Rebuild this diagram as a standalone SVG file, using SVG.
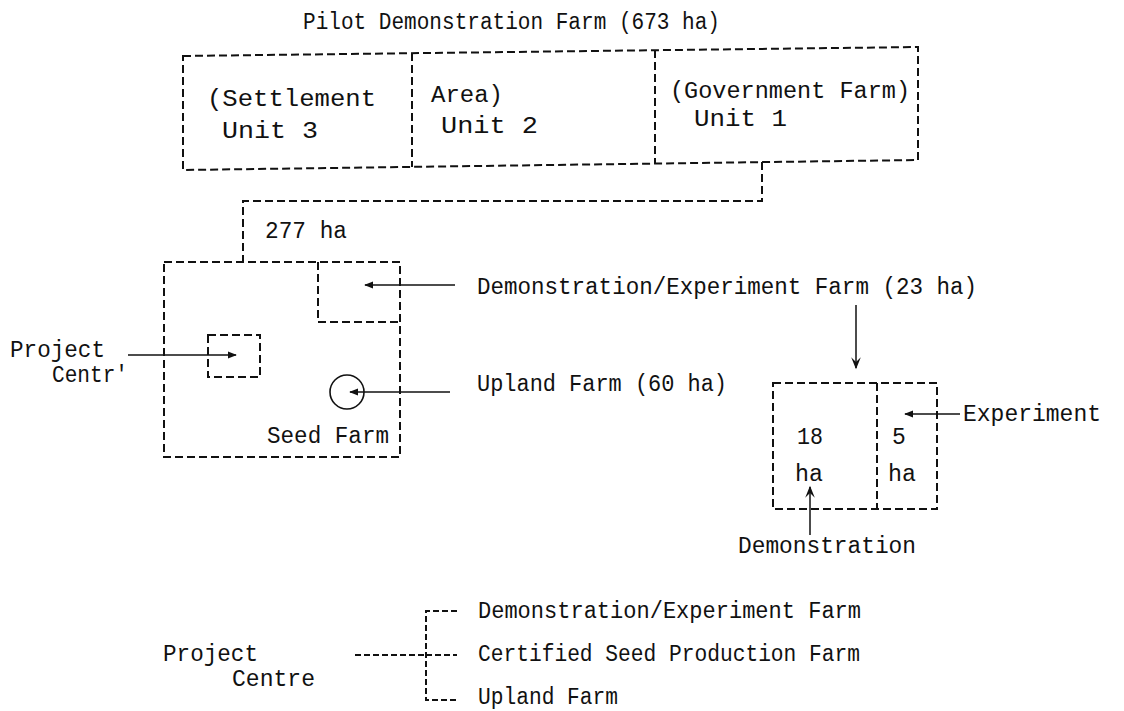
<svg xmlns="http://www.w3.org/2000/svg" width="1124" height="711" viewBox="0 0 1124 711">
<style>
text{font-family:"Liberation Mono","Courier New",monospace;font-size:23px;fill:#111}
.d{fill:none;stroke:#111;stroke-width:2;stroke-dasharray:8 4}
.s{fill:none;stroke:#111;stroke-width:1.5}
</style>
<defs>
<marker id="ah" viewBox="0 0 10 10" refX="9" refY="5" markerWidth="9" markerHeight="9" markerUnits="userSpaceOnUse" orient="auto"><path d="M0,1 L10,5 L0,9 Z" fill="#111"/></marker>
<marker id="ahb" viewBox="0 0 10 10" refX="9" refY="5" markerWidth="14" markerHeight="12" markerUnits="userSpaceOnUse" orient="auto"><path d="M0,1 L10,5 L0,9 L4,5 Z" fill="#111"/></marker>
</defs>
<rect width="1124" height="711" fill="#fff"/>
<g id="pilot-farm">
<text x="303" y="29" textLength="417" lengthAdjust="spacingAndGlyphs">Pilot Demonstration Farm (673 ha)</text>
<polygon class="d" points="183,56 918,47 918,160 183,170"/>
<line class="d" x1="412" y1="53" x2="412" y2="167"/>
<line class="d" x1="655" y1="50" x2="655" y2="164"/>
</g>
<g id="unit3">
<text x="207" y="106" textLength="169" lengthAdjust="spacingAndGlyphs">(Settlement</text>
<text x="222" y="138" textLength="96" lengthAdjust="spacingAndGlyphs">Unit 3</text>
</g>
<g id="unit2">
<text x="431" y="102" textLength="72" lengthAdjust="spacingAndGlyphs">Area)</text>
<text x="441" y="133" textLength="97" lengthAdjust="spacingAndGlyphs">Unit 2</text>
</g>
<g id="unit1">
<text x="670" y="98" textLength="240" lengthAdjust="spacingAndGlyphs">(Government Farm)</text>
<text x="694" y="126" textLength="93" lengthAdjust="spacingAndGlyphs">Unit 1</text>
</g>
<g id="connectors">
<polyline class="d" points="762,162 762,201 243,201 243,262"/>
<line class="s" x1="455" y1="285" x2="365" y2="285" marker-end="url(#ah)"/>
<line class="s" x1="128" y1="355" x2="236" y2="355" marker-end="url(#ah)"/>
<line class="s" x1="450" y1="392" x2="350" y2="392" marker-end="url(#ah)"/>
<line class="s" x1="856" y1="305" x2="856" y2="368" marker-end="url(#ahb)"/>
<line class="s" x1="960" y1="414" x2="905" y2="414" marker-end="url(#ah)"/>
<line class="s" x1="810" y1="535" x2="810" y2="487" marker-end="url(#ahb)"/>
<line class="d" style="stroke-dasharray:6 3" x1="355" y1="655" x2="426" y2="655"/>
<polyline class="d" style="stroke-dasharray:6 3" points="457,611 426,611 426,700 457,700"/>
<line class="d" style="stroke-dasharray:6 3" x1="426" y1="655" x2="457" y2="655"/>
</g>
<g id="area-277">
<text x="265" y="238" textLength="82" lengthAdjust="spacingAndGlyphs">277 ha</text>
<rect class="d" x="164" y="262" width="236" height="195"/>
<polyline class="d" points="318,262 318,322 400,322"/>
<text x="267" y="443" textLength="122" lengthAdjust="spacingAndGlyphs">Seed Farm</text>
</g>
<g id="project-centre">
<rect class="d" x="208" y="335" width="52" height="42"/>
<text x="10" y="357" textLength="95" lengthAdjust="spacingAndGlyphs">Project</text>
<text x="52" y="382" textLength="76" lengthAdjust="spacingAndGlyphs">Centr'</text>
</g>
<g id="upland-farm">
<circle cx="347" cy="392" r="17" fill="none" stroke="#111" stroke-width="1.6"/>
<text x="477" y="391" textLength="250" lengthAdjust="spacingAndGlyphs">Upland Farm (60 ha)</text>
</g>
<g id="demo-exp-farm">
<text x="477" y="294" textLength="500" lengthAdjust="spacingAndGlyphs">Demonstration/Experiment Farm (23 ha)</text>
<rect class="d" x="773" y="383" width="164" height="126"/>
<line class="d" x1="877" y1="383" x2="877" y2="509"/>
<text x="797" y="444" textLength="26" lengthAdjust="spacingAndGlyphs">18</text>
<text x="892" y="444">5</text>
<text x="795" y="481" textLength="28" lengthAdjust="spacingAndGlyphs">ha</text>
<text x="888" y="481" textLength="28" lengthAdjust="spacingAndGlyphs">ha</text>
</g>
<g id="experiment"><text x="963" y="421" textLength="138" lengthAdjust="spacingAndGlyphs">Experiment</text></g>
<g id="demonstration"><text x="738" y="553" textLength="178" lengthAdjust="spacingAndGlyphs">Demonstration</text></g>
<g id="legend">
<text x="163" y="661" textLength="95" lengthAdjust="spacingAndGlyphs">Project</text>
<text x="232" y="686" textLength="83" lengthAdjust="spacingAndGlyphs">Centre</text>
<text x="478" y="618" textLength="383" lengthAdjust="spacingAndGlyphs">Demonstration/Experiment Farm</text>
<text x="478" y="661" textLength="382" lengthAdjust="spacingAndGlyphs">Certified Seed Production Farm</text>
<text x="478" y="704" textLength="140" lengthAdjust="spacingAndGlyphs">Upland Farm</text>
</g>
</svg>
